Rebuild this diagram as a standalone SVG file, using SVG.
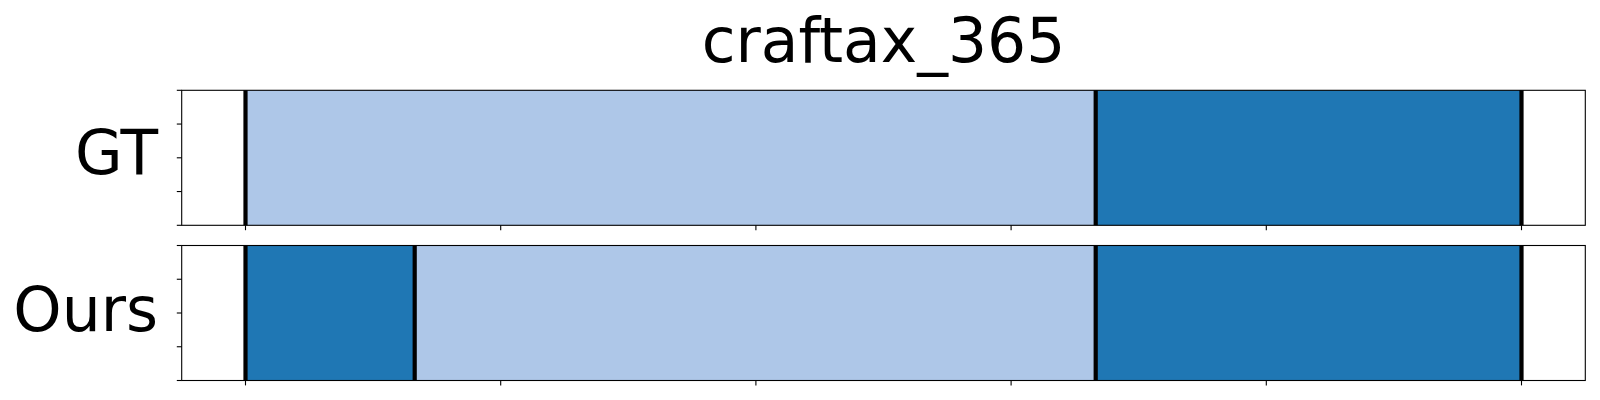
<svg xmlns="http://www.w3.org/2000/svg" width="1600" height="400" viewBox="0 0 1600 400">
  <style>
    .light { fill: #aec7e8; }
    .dark { fill: #1f77b4; }
    .bound { stroke: #000000; stroke-width: 4.2; }
    .spine { fill: none; stroke: #000000; stroke-width: 1.1; }
    .tick { stroke: #000000; stroke-width: 1.1; }
    .lbl { font-family: "DejaVu Sans", sans-serif; font-size: 61.5px; fill: #000000; }
  </style>
  <rect x="0" y="0" width="1600" height="400" fill="#ffffff"/>
  <text id="title" class="lbl" x="883.5" y="61.7" text-anchor="middle">craftax_365</text>

  <g id="panel-gt">
    <rect class="light" x="245.5" y="90.3" width="850.2" height="135"/>
    <rect class="dark" x="1095.7" y="90.3" width="425.8" height="135"/>
    <g id="gt-boundaries">
      <line class="bound" x1="245.5" y1="90.3" x2="245.5" y2="225.3"/>
      <line class="bound" x1="1095.7" y1="90.3" x2="1095.7" y2="225.3"/>
      <line class="bound" x1="1521.5" y1="90.3" x2="1521.5" y2="225.3"/>
    </g>
    <rect class="spine" x="181.7" y="90.3" width="1403.6" height="135"/>
    <g id="gt-ticks">
      <line class="tick" x1="176.8" y1="90.3" x2="181.7" y2="90.3"/>
      <line class="tick" x1="176.8" y1="124.05" x2="181.7" y2="124.05"/>
      <line class="tick" x1="176.8" y1="157.8" x2="181.7" y2="157.8"/>
      <line class="tick" x1="176.8" y1="191.55" x2="181.7" y2="191.55"/>
      <line class="tick" x1="176.8" y1="225.3" x2="181.7" y2="225.3"/>
      <line class="tick" x1="245.5" y1="225.3" x2="245.5" y2="230.2"/>
      <line class="tick" x1="500.7" y1="225.3" x2="500.7" y2="230.2"/>
      <line class="tick" x1="755.9" y1="225.3" x2="755.9" y2="230.2"/>
      <line class="tick" x1="1011.1" y1="225.3" x2="1011.1" y2="230.2"/>
      <line class="tick" x1="1266.3" y1="225.3" x2="1266.3" y2="230.2"/>
      <line class="tick" x1="1521.5" y1="225.3" x2="1521.5" y2="230.2"/>
    </g>
    <text class="lbl" x="158" y="174" text-anchor="end">GT</text>
  </g>

  <g id="panel-ours">
    <rect class="dark" x="245.5" y="245.5" width="169.2" height="135"/>
    <rect class="light" x="414.7" y="245.5" width="681" height="135"/>
    <rect class="dark" x="1095.7" y="245.5" width="425.8" height="135"/>
    <g id="ours-boundaries">
      <line class="bound" x1="245.5" y1="245.5" x2="245.5" y2="380.5"/>
      <line class="bound" x1="414.7" y1="245.5" x2="414.7" y2="380.5"/>
      <line class="bound" x1="1095.7" y1="245.5" x2="1095.7" y2="380.5"/>
      <line class="bound" x1="1521.5" y1="245.5" x2="1521.5" y2="380.5"/>
    </g>
    <rect class="spine" x="181.7" y="245.5" width="1403.6" height="135"/>
    <g id="ours-ticks">
      <line class="tick" x1="176.8" y1="245.5" x2="181.7" y2="245.5"/>
      <line class="tick" x1="176.8" y1="279.25" x2="181.7" y2="279.25"/>
      <line class="tick" x1="176.8" y1="313" x2="181.7" y2="313"/>
      <line class="tick" x1="176.8" y1="346.75" x2="181.7" y2="346.75"/>
      <line class="tick" x1="176.8" y1="380.5" x2="181.7" y2="380.5"/>
      <line class="tick" x1="245.5" y1="380.5" x2="245.5" y2="385.4"/>
      <line class="tick" x1="500.7" y1="380.5" x2="500.7" y2="385.4"/>
      <line class="tick" x1="755.9" y1="380.5" x2="755.9" y2="385.4"/>
      <line class="tick" x1="1011.1" y1="380.5" x2="1011.1" y2="385.4"/>
      <line class="tick" x1="1266.3" y1="380.5" x2="1266.3" y2="385.4"/>
      <line class="tick" x1="1521.5" y1="380.5" x2="1521.5" y2="385.4"/>
    </g>
    <text class="lbl" x="158" y="331" text-anchor="end">Ours</text>
  </g>
</svg>
